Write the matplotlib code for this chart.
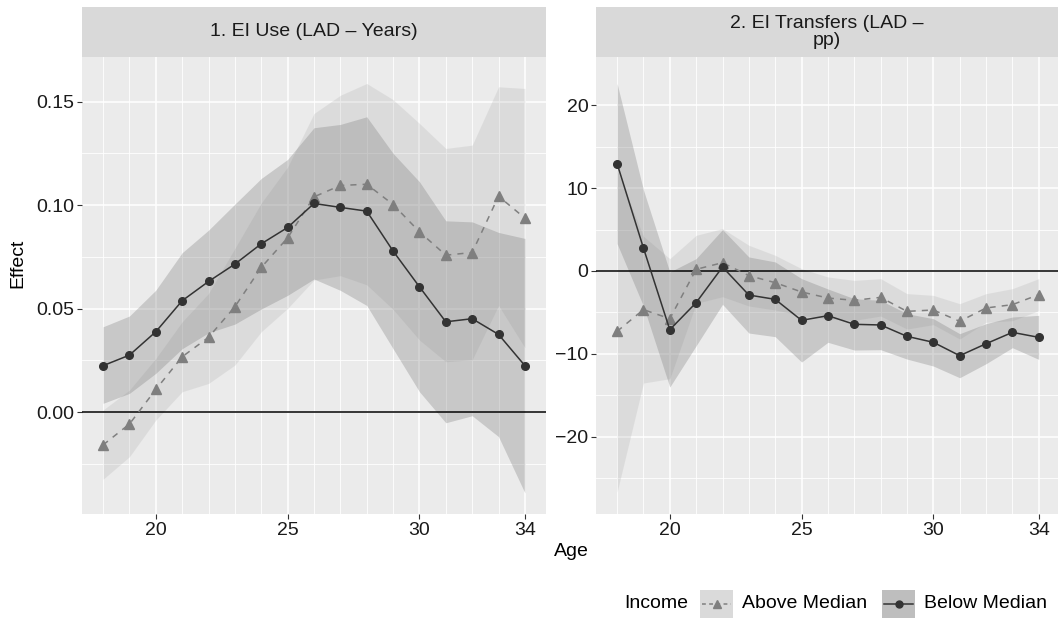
import numpy as np
import matplotlib
matplotlib.use("Agg")
import matplotlib.pyplot as plt
from matplotlib.patches import Rectangle
from matplotlib.lines import Line2D

plt.rcParams['font.family'] = ['Liberation Sans', 'DejaVu Sans']

ages = list(range(18, 35))

# Panel 1: EI use (LAD - years)
use_below = [0.0224, 0.0275, 0.0388, 0.0538, 0.0631, 0.0715, 0.0813, 0.0892, 0.1008,
             0.0989, 0.0971, 0.0778, 0.0605, 0.0436, 0.0451, 0.0375, 0.0224]
use_below_hi = [0.0412, 0.0464, 0.0589, 0.0770, 0.0879, 0.1005, 0.1129, 0.1221, 0.1374,
                0.1390, 0.1427, 0.1250, 0.1113, 0.0924, 0.0919, 0.0868, 0.0839]
use_below_lo = [0.0042, 0.0090, 0.0187, 0.0306, 0.0383, 0.0425, 0.0498, 0.0564, 0.0643,
                0.0588, 0.0515, 0.0306, 0.0098, -0.0052, -0.0018, -0.0119, -0.0391]
use_above = [-0.0159, -0.0058, 0.0109, 0.0267, 0.0361, 0.0509, 0.0699, 0.0842, 0.1040,
             0.1095, 0.1101, 0.1003, 0.0871, 0.0758, 0.0771, 0.1043, 0.0937]
use_above_hi = [0.0010, 0.0106, 0.0259, 0.0436, 0.0573, 0.0791, 0.1010, 0.1184, 0.1443,
                0.1531, 0.1588, 0.1510, 0.1395, 0.1274, 0.1290, 0.1572, 0.1564]
use_above_lo = [-0.0325, -0.0216, -0.0039, 0.0098, 0.0138, 0.0227, 0.0388, 0.0501, 0.0638,
                0.0659, 0.0615, 0.0496, 0.0348, 0.0243, 0.0253, 0.0515, 0.0311]

# Panel 2: EI transfers (LAD - pp)
tr_below = [12.95, 2.77, -7.08, -3.82, 0.48, -2.90, -3.42, -5.95, -5.39,
            -6.43, -6.51, -7.88, -8.60, -10.21, -8.77, -7.40, -8.00]
tr_below_hi = [22.60, 9.77, -0.12, 1.49, 4.99, 1.69, 1.09, -0.92, -2.17,
               -3.34, -3.54, -5.15, -5.75, -7.56, -6.35, -5.55, -5.35]
tr_below_lo = [3.30, -4.22, -13.99, -9.01, -4.02, -7.48, -7.92, -10.98, -8.60,
               -9.53, -9.49, -10.62, -11.46, -12.87, -11.18, -9.25, -10.66]
tr_above = [-7.28, -4.66, -5.75, 0.20, 1.00, -0.56, -1.41, -2.53, -3.26,
            -3.54, -3.18, -4.87, -4.70, -6.07, -4.46, -4.06, -2.85]
tr_above_hi = [12.14, 4.18, 1.49, 4.30, 5.11, 3.10, 1.89, 0.28, -0.72,
               -1.13, -0.92, -2.73, -2.94, -3.94, -2.73, -2.13, -0.92]
tr_above_lo = [-26.66, -13.51, -12.99, -3.90, -3.10, -4.22, -4.70, -5.35, -5.79,
               -5.95, -5.43, -7.00, -6.47, -8.20, -6.19, -5.99, -4.78]

panels = [
    dict(title="1. EI Use (LAD \u2013 Years)", below=use_below, below_hi=use_below_hi,
         below_lo=use_below_lo, above=use_above, above_hi=use_above_hi, above_lo=use_above_lo,
         yticks=[0.0, 0.05, 0.10, 0.15], yminor=[-0.025, 0.025, 0.075, 0.125],
         ylim=(-0.0493, 0.1716), fmt="{:.2f}"),
    dict(title="2. EI Transfers (LAD \u2013\npp)", below=tr_below, below_hi=tr_below_hi,
         below_lo=tr_below_lo, above=tr_above, above_hi=tr_above_hi, above_lo=tr_above_lo,
         yticks=[-20, -10, 0, 10, 20], yminor=[-25, -15, -5, 5, 15],
         ylim=(-29.3, 25.8), fmt="{:.0f}"),
]

W, H = 1058, 620
fig = plt.figure(figsize=(W / 100, H / 100), dpi=100)

boxes = [(82, 464, (17.2, 34.8)), (596, 462, (17.2, 34.73))]
top, bottom = 57, 514

bg = '#EBEBEB'
above_fill = ('#AAAAAA', 0.23)
below_fill = ('#787878', 0.30)
above_line = '#7F7F7F'
below_line = '#333333'
xmajor = [20, 25, 30, 34]

for p, (x0, w, xlim) in zip(panels, boxes):
    ax = fig.add_axes([x0 / W, 1 - bottom / H, w / W, (bottom - top) / H])
    ax.set_facecolor(bg)
    for s in ax.spines.values():
        s.set_visible(False)
    ax.set_xlim(*xlim)
    ax.set_ylim(*p['ylim'])
    # grid
    for a in ages:
        ax.axvline(a, color='white', lw=1.1 if a in xmajor else 0.6, zorder=0.5)
    for yv in p['yticks']:
        ax.axhline(yv, color='white', lw=1.1, zorder=0.5)
    for yv in p['yminor']:
        ax.axhline(yv, color='white', lw=0.6, zorder=0.5)

    ax.fill_between(ages, p['above_lo'], p['above_hi'], color=above_fill[0],
                    alpha=above_fill[1], lw=0, zorder=1)
    ax.fill_between(ages, p['below_lo'], p['below_hi'], color=below_fill[0],
                    alpha=below_fill[1], lw=0, zorder=1)
    ax.axhline(0, color='black', lw=1.1, zorder=2)
    ax.plot(ages, p['above'], color=above_line, lw=1.1, ls=(0, (4, 4)), marker='^',
            markersize=6.5, zorder=3)
    ax.plot(ages, p['below'], color=below_line, lw=1.1, marker='o', markersize=5.5, zorder=4)

    ax.set_xticks(xmajor)
    ax.set_xticklabels([str(v) for v in xmajor])
    ax.set_yticks(p['yticks'])
    ax.set_yticklabels([p['fmt'].format(v).replace('-', '\u2212') for v in p['yticks']])
    ax.tick_params(length=3.5, width=0.8, color='#333333', labelsize=14,
                   labelcolor='#1A1A1A', pad=2)

    # facet strip
    sax = fig.add_axes([x0 / W, 1 - 57 / H, w / W, 50 / H])
    sax.set_facecolor('#D9D9D9')
    sax.set_xticks([])
    sax.set_yticks([])
    for s in sax.spines.values():
        s.set_visible(False)
    sax.text(0.5, 0.5, p['title'], ha='center', va='center', fontsize=14,
             color='#1A1A1A', linespacing=0.95, transform=sax.transAxes)

fig.text(18 / W, 1 - 263 / H, "Effect", rotation=90, ha='center', va='center', fontsize=14)
fig.text(571 / W, 1 - 552 / H, "Age", ha='center', va='center', fontsize=14)

# legend, drawn by hand in figure pixels
ly = 1 - 604 / H
fig.text(624 / W, ly, "Income", ha='left', va='center', fontsize=14)
keys = [(700, '#DADADA', above_line, (0, (2.5, 2.2)), '^', 6, "Above Median"),
        (882, '#BEBEBE', below_line, '-', 'o', 5, "Below Median")]
for kx, kfill, lc, ls, mk, ms, lab in keys:
    fig.patches.append(Rectangle((kx / W, 1 - 618 / H), 33 / W, 28 / H, facecolor=kfill,
                                 edgecolor='none', transform=fig.transFigure, figure=fig))
    fig.add_artist(Line2D([(kx + 2) / W, (kx + 31) / W], [ly, ly], color=lc, lw=1.1, ls=ls,
                          transform=fig.transFigure))
    fig.add_artist(Line2D([(kx + 16.5) / W], [ly], color=lc, marker=mk, markersize=ms,
                          ls='none', transform=fig.transFigure))
    fig.text((kx + 42) / W, ly, lab, ha='left', va='center', fontsize=14)

fig.savefig("out.png", dpi=100)
